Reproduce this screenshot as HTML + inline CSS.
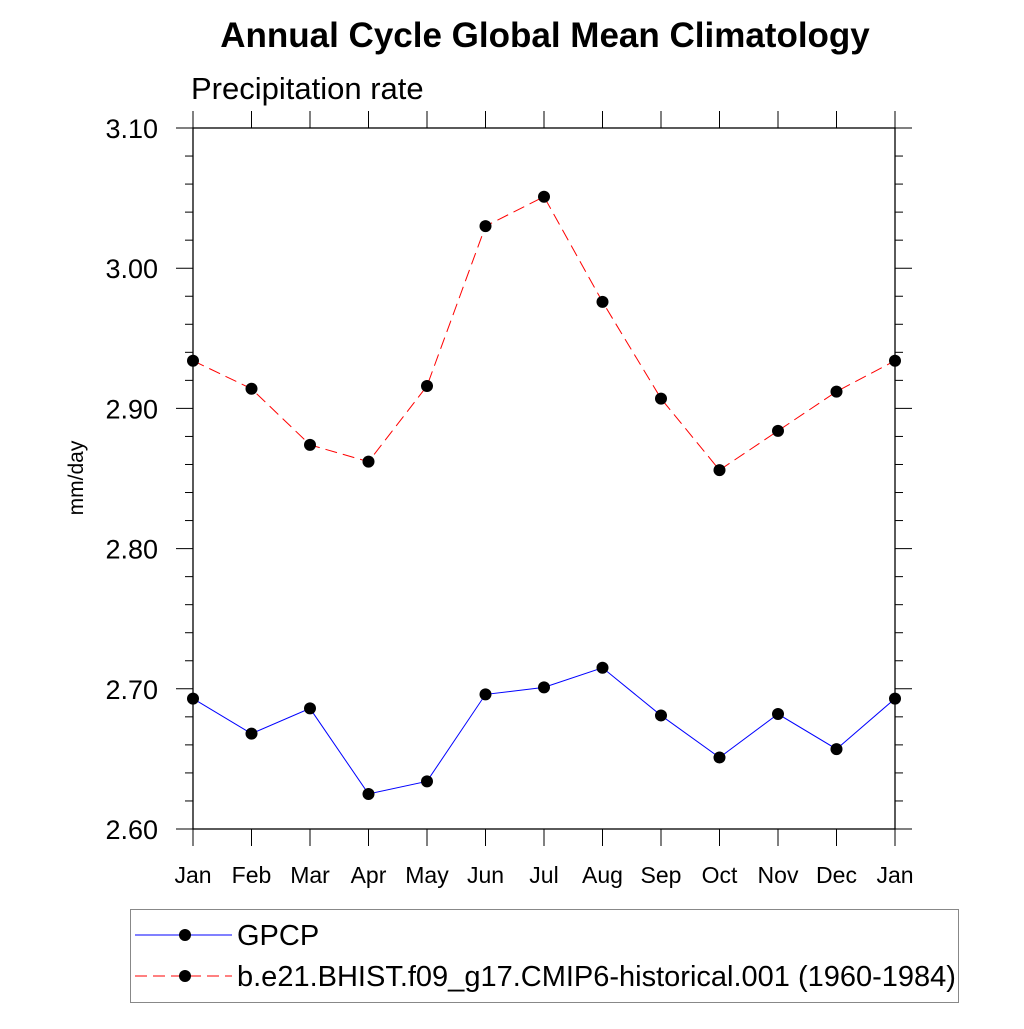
<!DOCTYPE html>
<html><head><meta charset="utf-8"><style>
body{margin:0;background:#fff;}
svg text{font-family:"Liberation Sans",sans-serif;}
</style></head><body>
<svg id="chart" width="1024" height="1024" xmlns="http://www.w3.org/2000/svg">
<rect width="1024" height="1024" fill="#fff"/>
<text x="545" y="47" font-size="35" font-weight="bold" text-anchor="middle">Annual Cycle Global Mean Climatology</text>
<text x="191" y="99" font-size="31">Precipitation rate</text>
<text transform="translate(83,478) rotate(-90)" font-size="21" text-anchor="middle">mm/day</text>
<g id="axes"></g>
<g id="series"></g>
<g>
<rect x="130.5" y="909.5" width="828" height="93" fill="none" stroke="#888" stroke-width="1"/>
<line x1="135" y1="935" x2="232" y2="935" stroke="#00f" stroke-width="1"/>
<circle cx="185" cy="935" r="6" fill="#000"/>
<text x="237" y="945" font-size="29">GPCP</text>
<line x1="135" y1="976" x2="232" y2="976" stroke="#f00" stroke-width="1" stroke-dasharray="12,6"/>
<circle cx="185" cy="976" r="6" fill="#000"/>
<text x="237" y="986" font-size="29">b.e21.BHIST.f09_g17.CMIP6-historical.001 (1960-1984)</text>
</g>
</svg>
<script>
const months=["Jan","Feb","Mar","Apr","May","Jun","Jul","Aug","Sep","Oct","Nov","Dec","Jan"];
const gpcp=[2.693,2.668,2.686,2.625,2.634,2.696,2.701,2.715,2.681,2.651,2.682,2.657,2.693];
const model=[2.934,2.914,2.874,2.862,2.916,3.030,3.051,2.976,2.907,2.856,2.884,2.912,2.934];
const yTicks=[2.60,2.70,2.80,2.90,3.00,3.10];
const L=193,R=895,T=128,B=829,yMin=2.6,yMax=3.1;
const xs=i=>L+(R-L)*i/(months.length-1);
const ys=v=>B-(v-yMin)/(yMax-yMin)*(B-T);
const NS="http://www.w3.org/2000/svg";
function mk(tag,attrs,parent){const e=document.createElementNS(NS,tag);for(const k in attrs)e.setAttribute(k,attrs[k]);parent.appendChild(e);return e;}
const ax=document.getElementById('axes');
const fr=mk('rect',{x:L,y:T,width:R-L,height:B-T,fill:'none',stroke:'#000','stroke-width':1.3},ax);


for(let v=yMin;v<=yMax+1e-9;v+=0.02){
  const y=ys(v);const major=Math.abs(Math.round(v*10)-v*10)<1e-6;const len=major?17:8;
  mk('line',{x1:L-len,y1:y,x2:L,y2:y,stroke:'#000','stroke-width':1},ax);
  mk('line',{x1:R,y1:y,x2:R+len,y2:y,stroke:'#000','stroke-width':1},ax);
}
yTicks.forEach(v=>{
  const t=mk('text',{x:158,y:ys(v)+10,'font-size':27,'text-anchor':'end'},ax);
  t.textContent=v.toFixed(2);
  
  
});
months.forEach((m,i)=>{
  const x=xs(i);
  mk('line',{x1:x,y1:B,x2:x,y2:B+17,stroke:'#000','stroke-width':1},ax);
  mk('line',{x1:x,y1:T-17,x2:x,y2:T,stroke:'#000','stroke-width':1},ax);
  const t=mk('text',{x:x,y:883,'font-size':23,'text-anchor':'middle'},ax);
  t.textContent=m;
  
  
});
const sg=document.getElementById('series');
function draw(data,color,dash,name){
  const pts=data.map((v,i)=>xs(i)+','+ys(v)).join(' ');
  const pl=mk('polyline',{points:pts,fill:'none',stroke:color,'stroke-width':1,'stroke-dasharray':dash},sg);
  
  
  data.forEach((v,i)=>{
    const c=mk('circle',{cx:xs(i),cy:ys(v),r:6,fill:'#000'},sg);
    
    
  });
}
draw(model,'#f00','12,6','model');
draw(gpcp,'#00f','none','gpcp');
</script>
</body></html>
